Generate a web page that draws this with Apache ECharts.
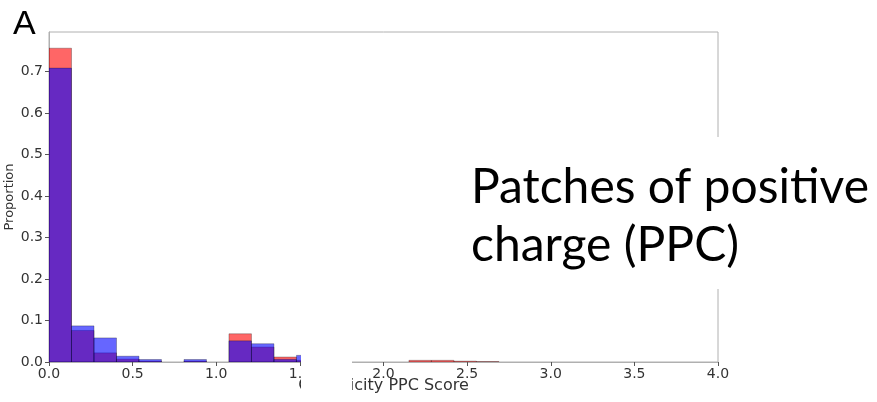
<!DOCTYPE html>
<html>
<head>
<meta charset="utf-8">
<script src="https://cdn.jsdelivr.net/npm/echarts@6/dist/echarts.min.js"></script>
<style>html,body{margin:0;padding:0;background:#fff}#c{width:877px;height:402px}</style>
</head>
<body>
<div id="c"></div>
<script>
// Histogram bin edges (Cationicity PPC Score)
const binEdges = [0, 0.1345, 0.269, 0.4035, 0.538, 0.6725, 0.807, 0.9415, 1.076, 1.2105, 1.345, 1.4795, 1.614, 1.7485, 1.883, 2.0175, 2.152, 2.2865, 2.421, 2.5555, 2.69];
// Proportions per bin
const redValues  = [0.756, 0.076, 0.022, 0.007, 0.002, 0, 0.002, 0, 0.068, 0.036, 0.012, 0.004, 0, 0, 0, 0, 0.004, 0.004, 0.002, 0.001];
const blueValues = [0.708, 0.087, 0.058, 0.014, 0.006, 0, 0.006, 0, 0.051, 0.044, 0.0065, 0.016, 0, 0, 0, 0, 0, 0, 0, 0];
const xTicks = [0, 0.5, 1, 1.5, 2, 2.5, 3, 3.5, 4];
const yTicks = [0, 0.1, 0.2, 0.3, 0.4, 0.5, 0.6, 0.7];
const panelLetter = 'A';
const xTitle = 'Cationicity PPC Score';
const yTitle = 'Proportion';
const overlayLines = ['Patches of positive', 'charge (PPC)'];

function toBins(vals) {
  return vals.map((v, i) => [binEdges[i], binEdges[i + 1], v]);
}
function makeRender(fill) {
  return function (params, api) {
    const v = api.value(2);
    if (!v) return null;
    const p0 = api.coord([api.value(0), v]);
    const p1 = api.coord([api.value(1), 0]);
    return {
      type: 'rect',
      shape: { x: p0[0], y: p0[1], width: p1[0] - p0[0], height: p1[1] - p0[1] },
      style: { fill: fill, stroke: 'rgba(0,0,0,0.35)', lineWidth: 0.8 }
    };
  };
}

const chart = echarts.init(document.getElementById('c'), null, { renderer: 'canvas' });
const font = 'DejaVu Sans';
chart.setOption({
  animation: false,
  grid: { left: 49, right: 159, top: 32, bottom: 40, show: true, borderColor: '#b0b0b0', borderWidth: 1,
    containLabel: false, outerBoundsMode: 'none' },
  xAxis: {
    type: 'value', min: 0, max: 4,
    name: xTitle, nameLocation: 'middle', nameGap: 16, nameMoveOverlap: false,
    nameTextStyle: { fontFamily: font, fontSize: 16, color: '#333', verticalAlign: 'top' },
    axisLine: { show: true, lineStyle: { color: '#b0b0b0', width: 1 } },
    axisTick: { show: true, length: 4, lineStyle: { color: '#555' }, customValues: xTicks },
    axisLabel: { customValues: xTicks, fontFamily: font, fontSize: 14, color: '#333', margin: 5,
      formatter: v => v.toFixed(1) },
    splitLine: { show: false }
  },
  yAxis: {
    type: 'value', min: 0, max: 0.795,
    name: yTitle, nameLocation: 'middle', nameGap: 39, nameMoveOverlap: false,
    nameTextStyle: { fontFamily: font, fontSize: 13, color: '#333', verticalAlign: 'middle' },
    axisLine: { show: true, lineStyle: { color: '#b0b0b0', width: 1 } },
    axisTick: { show: true, length: 4, lineStyle: { color: '#555' }, customValues: yTicks },
    axisLabel: { customValues: yTicks, fontFamily: font, fontSize: 14, color: '#333', margin: 6,
      formatter: v => v.toFixed(1) },
    splitLine: { show: false }
  },
  series: [
    { type: 'custom', renderItem: makeRender('rgba(255,0,0,0.6)'), data: toBins(redValues),
      encode: { x: [0, 1], y: 2 }, clip: true, z: 2 },
    { type: 'custom', renderItem: makeRender('rgba(0,0,255,0.6)'), data: toBins(blueValues),
      encode: { x: [0, 1], y: 2 }, clip: true, z: 3 }
  ],
  graphic: [
    { type: 'rect', z: 100, shape: { x: 301, y: 150, width: 51, height: 252 }, style: { fill: '#fff' } },
    { type: 'rect', z: 100, shape: { x: 455, y: 137, width: 422, height: 152 }, style: { fill: '#fff' } },
    { type: 'text', z: 101, left: 13, top: 8, style: { text: panelLetter, font: '34px "Liberation Sans"', fill: '#000' } },
    { type: 'text', z: 101, left: 471, top: 159, style: { text: overlayLines.join('\n'), font: '48px Lato', lineHeight: 58, fill: '#000' } }
  ]
});
</script>
</body>
</html>
